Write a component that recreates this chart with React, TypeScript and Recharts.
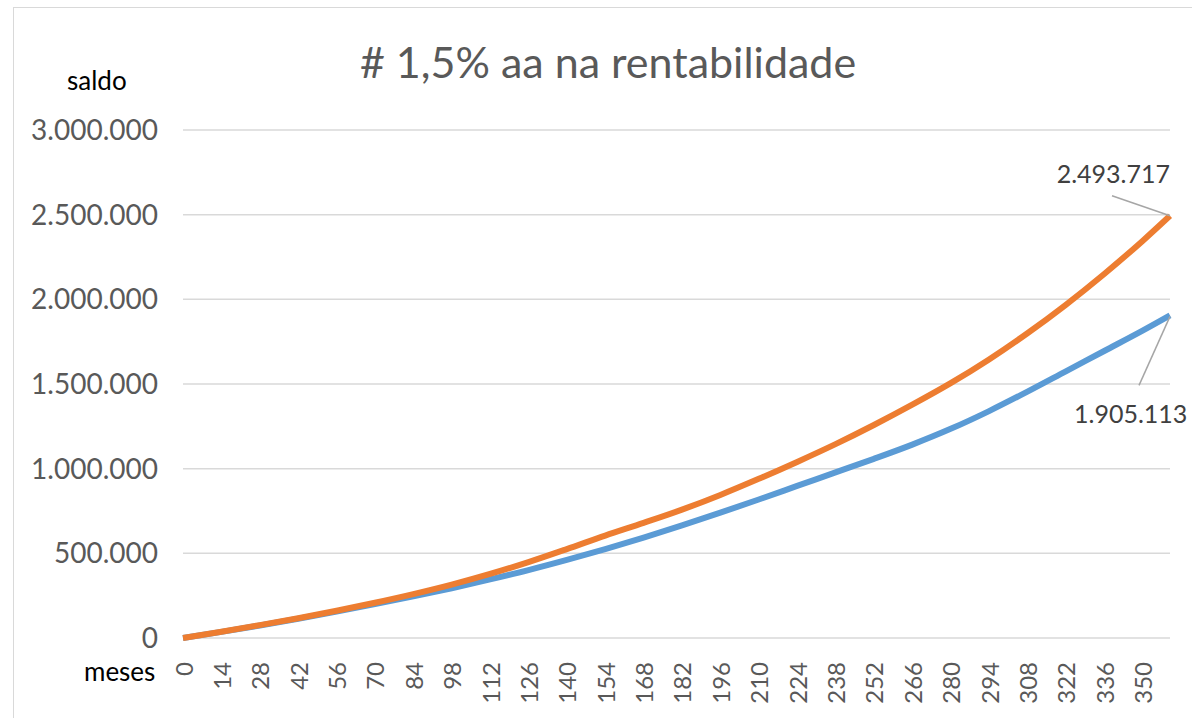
import { LineChart, Line, XAxis, YAxis, CartesianGrid, LabelList } from 'recharts';

// meses (eixo x) e saldos
const meses = [0, 14, 28, 42, 56, 70, 84, 98, 112, 126, 140, 154, 168, 182, 196, 210, 224, 238, 252, 266, 280, 294, 308, 322, 336, 350, 360];
const saldoBase = [0, 36000, 74000, 114000, 156000, 200000, 246000, 294000, 346000, 401000, 461000, 525000, 593000, 665000, 740000, 818000, 898000, 978000, 1058000, 1142000, 1235000, 1340000, 1455000, 1575000, 1695000, 1815000, 1905113];
const saldoMais = [0, 37000, 76000, 117000, 161000, 208000, 259000, 315000, 378000, 448000, 525000, 605000, 680000, 758000, 845000, 940000, 1040000, 1145000, 1258000, 1378000, 1505000, 1645000, 1800000, 1968000, 2150000, 2345000, 2493717];
const mesTicks = [0, 14, 28, 42, 56, 70, 84, 98, 112, 126, 140, 154, 168, 182, 196, 210, 224, 238, 252, 266, 280, 294, 308, 322, 336, 350];
const saldoTicks = [0, 500000, 1000000, 1500000, 2000000, 2500000, 3000000];

const data = meses.map((m, i) => ({ mes: m, base: saldoBase[i], mais: saldoMais[i] }));
const lastIdx = meses.length - 1;

const font = 'Lato, "Open Sans", sans-serif';
const fmt = (v: number) => String(Math.round(v)).replace(/\B(?=(\d{3})+(?!\d))/g, '.');

function MesTick({ x, y, payload }: any) {
  const ty = y + 24;
  return (
    <text x={x} y={ty} transform={`rotate(-90, ${x}, ${ty})`} textAnchor="end" dominantBaseline="central"
      fill="#595959" fontSize={24} fontFamily={font}>
      {payload.value}
    </text>
  );
}

function MaisLabel({ x, y, value, index }: any) {
  if (index !== lastIdx) return null;
  return (
    <g>
      <line x1={x - 58} y1={y - 20} x2={x} y2={y} stroke="#a6a6a6" strokeWidth={1.5} />
      <text x={x} y={y - 33} textAnchor="end" fill="#404040" fontSize={25} fontFamily={font}>{fmt(value)}</text>
    </g>
  );
}

function BaseLabel({ x, y, value, index }: any) {
  if (index !== lastIdx) return null;
  return (
    <g>
      <line x1={x - 31} y1={y + 70} x2={x} y2={y + 1} stroke="#a6a6a6" strokeWidth={1.5} />
      <text x={x - 96} y={y + 108} textAnchor="start" fill="#404040" fontSize={25} fontFamily={font}>{fmt(value)}</text>
    </g>
  );
}

export default function App() {
  return (
    <div style={{ position: 'absolute', left: 0, top: 0, width: 1192, height: 718, overflow: 'hidden', background: '#fff' }}>
      <div style={{ position: 'absolute', left: 13, top: 7, width: 1200, height: 730, border: '1px solid #d9d9d9' }} />
      <div style={{ position: 'absolute', left: 0, top: 36, width: 1216, textAlign: 'center', fontFamily: font, fontSize: 43, color: '#595959' }}>
        # 1,5% aa na rentabilidade
      </div>
      <div style={{ position: 'absolute', left: 67, top: 64, fontFamily: font, fontSize: 26, color: '#000' }}>saldo</div>
      <div style={{ position: 'absolute', left: 84, top: 655, fontFamily: font, fontSize: 26, color: '#000' }}>meses</div>
      <div style={{ position: 'absolute', left: 0, top: 0 }}>
        <LineChart width={1192} height={718} data={data} margin={{ top: 130, right: 22, bottom: 0, left: 0 }}>
          <CartesianGrid vertical={false} stroke="#d9d9d9" strokeWidth={1.5} />
          <XAxis dataKey="mes" type="number" domain={[0, 360]} ticks={mesTicks} interval={0}
            axisLine={false} tickLine={false} tickSize={0} tickMargin={0} height={80} tick={<MesTick />} />
          <YAxis type="number" domain={[0, 3000000]} ticks={saldoTicks} width={183} axisLine={false} tickLine={false}
            tickSize={0} tickMargin={25} tickFormatter={fmt}
            tick={{ fill: '#595959', fontSize: 28, fontFamily: font }} />
          <Line dataKey="base" type="monotone" stroke="#5B9BD5" strokeWidth={6} dot={false} isAnimationActive={false}>
            <LabelList dataKey="base" content={<BaseLabel />} />
          </Line>
          <Line dataKey="mais" type="monotone" stroke="#ED7D31" strokeWidth={6} dot={false} isAnimationActive={false}>
            <LabelList dataKey="mais" content={<MaisLabel />} />
          </Line>
        </LineChart>
      </div>
    </div>
  );
}
